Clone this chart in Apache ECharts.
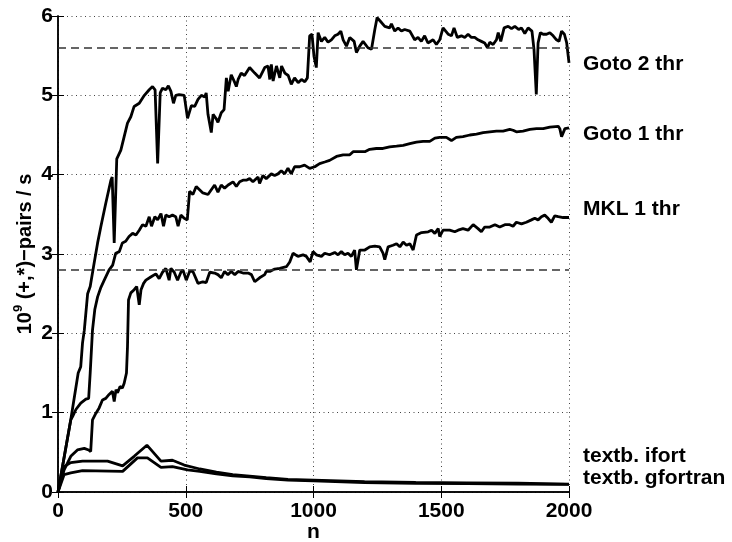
<!DOCTYPE html>
<html>
<head>
<meta charset="utf-8">
<script src="https://cdn.jsdelivr.net/npm/echarts@6/dist/echarts.min.js"></script>
<style>
  html, body { margin: 0; padding: 0; background: #fff; }
  #chart { width: 732px; height: 542px; }
</style>
</head>
<body>
<div id="chart"></div>
<script>
// values: [n, 1e9 pairs/s]
const goto2 = [
  [0, 0], [50, 0.91], [79, 1.5], [89, 1.58], [96, 1.88], [103, 2.04], [116, 2.5], [126, 2.59],
  [139, 2.84], [155, 3.14], [168, 3.35], [187, 3.64], [207, 3.93], [212, 3.97], [220, 3.14],
  [230, 4.2], [246, 4.31], [259, 4.48], [272, 4.65], [285, 4.73], [298, 4.86], [318, 4.9],
  [338, 5.0], [357, 5.07], [370, 5.11], [380, 5.07], [390, 4.14], [400, 5.03], [409, 5.09],
  [422, 5.07], [432, 5.12], [442, 5.05], [452, 4.9], [461, 5.0], [474, 5.01], [494, 5.0],
  [507, 4.71], [522, 4.87], [535, 4.86], [548, 4.95], [561, 5.0], [574, 4.98], [580, 5.03],
  [587, 4.76], [600, 4.53], [607, 4.76], [620, 4.7], [626, 4.66], [639, 4.78], [650, 4.82],
  [659, 5.22], [666, 5.05], [678, 5.26], [692, 5.16], [698, 5.11], [705, 5.2], [717, 5.28],
  [730, 5.25], [750, 5.35], [770, 5.28], [789, 5.22], [809, 5.35], [822, 5.37], [829, 5.2],
  [835, 5.39], [842, 5.18], [855, 5.37], [868, 5.22], [875, 5.37], [888, 5.28], [901, 5.25],
  [913, 5.14], [926, 5.22], [940, 5.16], [953, 5.2], [966, 5.17], [976, 5.22], [985, 5.75],
  [994, 5.77], [1002, 5.49], [1011, 5.35], [1018, 5.79], [1031, 5.68], [1044, 5.73], [1057, 5.67],
  [1070, 5.7], [1083, 5.75], [1096, 5.77], [1107, 5.81], [1116, 5.7], [1129, 5.62], [1142, 5.73],
  [1159, 5.68], [1168, 5.54], [1181, 5.62], [1194, 5.68], [1213, 5.6], [1227, 5.58], [1240, 5.83],
  [1249, 5.98], [1260, 5.94], [1279, 5.87], [1298, 5.85], [1305, 5.9], [1318, 5.81], [1331, 5.85],
  [1344, 5.81], [1357, 5.83], [1377, 5.81], [1396, 5.7], [1409, 5.73], [1422, 5.68], [1435, 5.75],
  [1448, 5.66], [1468, 5.7], [1481, 5.64], [1494, 5.7], [1507, 5.85], [1527, 5.77], [1540, 5.75],
  [1550, 5.85], [1563, 5.73], [1579, 5.75], [1592, 5.73], [1605, 5.77], [1618, 5.73], [1631, 5.73],
  [1644, 5.7], [1657, 5.68], [1670, 5.66], [1681, 5.6], [1690, 5.67], [1703, 5.64], [1716, 5.7],
  [1723, 5.79], [1733, 5.68], [1746, 5.85], [1762, 5.87], [1775, 5.84], [1788, 5.87], [1803, 5.83],
  [1814, 5.85], [1827, 5.78], [1840, 5.85], [1855, 5.81], [1863, 5.58], [1872, 5.01], [1879, 5.66],
  [1888, 5.79], [1899, 5.77], [1912, 5.77], [1925, 5.79], [1938, 5.75], [1951, 5.7], [1961, 5.68],
  [1971, 5.81], [1982, 5.77], [1991, 5.66], [2000, 5.41]
];

const goto1 = [
  [0, 0], [50, 0.91], [57, 0.95], [70, 1.04], [89, 1.12], [109, 1.17], [120, 1.18], [126, 1.5],
  [135, 2.04], [144, 2.3], [155, 2.46], [168, 2.58], [181, 2.67], [200, 2.8], [214, 2.86],
  [226, 3.01], [240, 3.03], [252, 3.14], [265, 3.16], [278, 3.22], [292, 3.26], [305, 3.24],
  [318, 3.3], [331, 3.37], [344, 3.35], [357, 3.47], [366, 3.35], [379, 3.47], [390, 3.43],
  [403, 3.51], [413, 3.35], [422, 3.49], [435, 3.47], [448, 3.49], [461, 3.47], [470, 3.35],
  [481, 3.49], [494, 3.45], [506, 3.43], [515, 3.79], [528, 3.75], [541, 3.85], [554, 3.81],
  [567, 3.77], [587, 3.75], [600, 3.81], [613, 3.87], [626, 3.78], [639, 3.87], [652, 3.83],
  [666, 3.87], [685, 3.91], [698, 3.85], [711, 3.91], [724, 3.93], [737, 3.93], [750, 3.95],
  [763, 3.91], [783, 3.97], [789, 3.89], [802, 3.99], [815, 3.95], [835, 4.01], [848, 3.99],
  [861, 4.01], [874, 4.05], [887, 4.01], [900, 4.08], [913, 4.01], [926, 4.1], [946, 4.1],
  [965, 4.12], [985, 4.08], [1005, 4.1], [1024, 4.14], [1044, 4.16], [1063, 4.18], [1090, 4.23],
  [1116, 4.25], [1142, 4.25], [1155, 4.29], [1181, 4.29], [1201, 4.29], [1220, 4.32], [1246, 4.33],
  [1272, 4.33], [1298, 4.35], [1325, 4.36], [1351, 4.37], [1377, 4.39], [1403, 4.41], [1429, 4.42],
  [1455, 4.42], [1475, 4.46], [1494, 4.47], [1520, 4.47], [1540, 4.43], [1559, 4.47], [1585, 4.48],
  [1612, 4.5], [1638, 4.51], [1664, 4.53], [1690, 4.54], [1716, 4.55], [1742, 4.55], [1768, 4.57],
  [1781, 4.56], [1794, 4.54], [1820, 4.55], [1847, 4.57], [1873, 4.58], [1899, 4.58], [1925, 4.6],
  [1958, 4.61], [1964, 4.58], [1971, 4.48], [1984, 4.58], [2000, 4.59]
];

const mkl1 = [
  [0, 0], [24, 0.28], [50, 0.45], [76, 0.53], [103, 0.55], [120, 0.53], [128, 0.51], [135, 0.91],
  [148, 0.99], [161, 1.06], [174, 1.16], [187, 1.18], [200, 1.23], [213, 1.27], [220, 1.14],
  [227, 1.29], [233, 1.25], [243, 1.33], [252, 1.31], [259, 1.37], [268, 1.5], [272, 1.83],
  [276, 2.42], [285, 2.51], [298, 2.55], [308, 2.59], [318, 2.36], [325, 2.55], [335, 2.63],
  [344, 2.67], [363, 2.71], [383, 2.75], [396, 2.69], [409, 2.77], [422, 2.82], [435, 2.67],
  [442, 2.82], [455, 2.77], [468, 2.67], [481, 2.77], [489, 2.8], [502, 2.67], [515, 2.78],
  [528, 2.78], [548, 2.63], [567, 2.65], [580, 2.64], [594, 2.77], [613, 2.76], [626, 2.74],
  [639, 2.7], [652, 2.78], [665, 2.74], [678, 2.78], [692, 2.74], [705, 2.78], [724, 2.76],
  [744, 2.76], [757, 2.74], [770, 2.65], [789, 2.7], [809, 2.74], [815, 2.78], [829, 2.78],
  [848, 2.81], [868, 2.82], [894, 2.84], [907, 2.9], [920, 3.01], [939, 2.97], [959, 2.99],
  [972, 2.97], [987, 2.9], [998, 3.03], [1011, 2.99], [1031, 2.97], [1044, 3.01], [1063, 2.99],
  [1083, 3.02], [1096, 2.99], [1109, 3.03], [1122, 2.99], [1135, 3.01], [1148, 2.97], [1161, 3.05],
  [1168, 2.8], [1181, 3.05], [1201, 3.05], [1220, 3.09], [1240, 3.1], [1259, 3.09], [1272, 3.01],
  [1279, 2.93], [1292, 3.09], [1311, 3.11], [1325, 3.13], [1338, 3.09], [1351, 3.15], [1364, 3.11],
  [1377, 3.13], [1390, 3.05], [1403, 3.24], [1423, 3.27], [1449, 3.28], [1462, 3.3], [1475, 3.26],
  [1488, 3.32], [1494, 3.22], [1507, 3.3], [1533, 3.3], [1553, 3.28], [1566, 3.3], [1585, 3.32],
  [1605, 3.3], [1625, 3.37], [1644, 3.32], [1657, 3.28], [1670, 3.34], [1690, 3.34], [1710, 3.37],
  [1729, 3.34], [1749, 3.37], [1768, 3.37], [1781, 3.35], [1794, 3.4], [1814, 3.38], [1833, 3.4],
  [1853, 3.43], [1866, 3.45], [1879, 3.43], [1892, 3.47], [1905, 3.49], [1918, 3.45], [1931, 3.4],
  [1944, 3.48], [1958, 3.47], [1977, 3.46], [2000, 3.46]
];

const textbIfort = [
  [0, 0], [24, 0.32], [50, 0.37], [96, 0.39], [194, 0.39], [253, 0.33], [298, 0.45], [348, 0.59],
  [403, 0.39], [448, 0.4], [494, 0.34], [555, 0.29], [620, 0.25], [684, 0.22], [750, 0.2],
  [815, 0.18], [900, 0.16], [1000, 0.15], [1200, 0.13], [1400, 0.12], [1600, 0.115], [1800, 0.11],
  [2000, 0.1]
];

const textbGfortran = [
  [0, 0], [24, 0.22], [50, 0.24], [96, 0.27], [253, 0.26], [311, 0.43], [350, 0.43], [403, 0.31],
  [448, 0.32], [507, 0.28], [555, 0.26], [620, 0.23], [684, 0.205], [750, 0.19], [815, 0.17],
  [900, 0.15], [1000, 0.14], [1200, 0.12], [1400, 0.11], [1600, 0.105], [1800, 0.1], [2000, 0.095]
];

// dashed reference levels
const refLevels = [5.6, 2.8];

// labels written to the right of the plot
const seriesLabels = ['Goto 2 thr', 'Goto 1 thr', 'MKL 1 thr', 'textb. ifort', 'textb. gfortran'];
const labelY = [64, 134, 209, 456, 478];

const chart = echarts.init(document.getElementById('chart'));
const font = "'Liberation Sans', Arial, Helvetica, sans-serif";

const lineSeries = (name, data) => ({
  name: name,
  type: 'line',
  data: data,
  symbol: 'none',
  silent: true,
  lineStyle: { color: '#000', width: 2.8 },
  z: 3
});

const option = {
  animation: false,
  backgroundColor: '#fff',
  grid: { left: 58, right: 163, top: 16, bottom: 50, outerBoundsMode: 'none', containLabel: false },
  xAxis: [
    {
      type: 'value', min: 0, max: 2000, interval: 500,
      axisLine: { lineStyle: { color: '#000', width: 1.5 } },
      axisTick: { inside: true, length: 6, lineStyle: { color: '#000', width: 1 } },
      axisLabel: {
        color: '#000', fontSize: 21, fontWeight: 'bold', fontFamily: font, margin: 9,
        formatter: v => String(v)
      },
      splitLine: { show: true, lineStyle: { color: '#444', width: 1, type: [1, 3.5] } },
      name: 'n', nameLocation: 'middle', nameGap: 30, nameMoveOverlap: false,
      nameTextStyle: { color: '#000', fontSize: 21, fontWeight: 'bold', fontFamily: font }
    },
    {
      type: 'value', min: 0, max: 2000, interval: 500, position: 'top',
      axisLine: { show: true, lineStyle: { color: '#000', width: 1.5 } },
      axisTick: { show: true, inside: true, length: 6, lineStyle: { color: '#000' } },
      axisLabel: { show: false }, splitLine: { show: false }
    }
  ],
  yAxis: [
    {
      type: 'value', min: 0, max: 6, interval: 1,
      axisLine: { show: true, lineStyle: { color: '#000', width: 1.5 } },
      axisTick: { show: true, inside: true, length: 6, lineStyle: { color: '#000' } },
      axisLabel: {
        color: '#000', fontSize: 21, fontWeight: 'bold', fontFamily: font, margin: 5,
        formatter: v => String(v)
      },
      splitLine: { show: true, lineStyle: { color: '#444', width: 1, type: [1, 3.5] } },
      name: '10{sup|9} (+,*)\u2212pairs / s', nameLocation: 'middle', nameGap: 20, nameMoveOverlap: false,
      nameTextStyle: {
        color: '#000', fontSize: 20, fontWeight: 'bold', fontFamily: font, lineHeight: 26,
        rich: { sup: { fontSize: 13, fontWeight: 'bold', fontFamily: font, verticalAlign: 'top', lineHeight: 26, color: '#000' } }
      }
    },
    {
      type: 'value', min: 0, max: 6, interval: 1, position: 'right',
      axisLine: { show: true, lineStyle: { color: '#000', width: 1.5 } },
      axisTick: { show: true, inside: true, length: 6, lineStyle: { color: '#000' } },
      axisLabel: { show: false }, splitLine: { show: false }
    }
  ],
  series: [
    Object.assign(lineSeries('Goto 2 thr', goto2), {
      markLine: {
        silent: true, symbol: 'none', label: { show: false },
        lineStyle: { color: '#333', width: 1.6, type: [8, 5] },
        data: refLevels.map(v => ({ yAxis: v }))
      }
    }),
    lineSeries('Goto 1 thr', goto1),
    lineSeries('MKL 1 thr', mkl1),
    lineSeries('textb. ifort', textbIfort),
    lineSeries('textb. gfortran', textbGfortran)
  ],
  graphic: seriesLabels.map((t, i) => ({
    type: 'text',
    x: 583,
    y: labelY[i],
    style: {
      text: t, fill: '#000', fontSize: 21, fontWeight: 'bold', fontFamily: font,
      verticalAlign: 'middle', align: 'left'
    }
  }))
};

chart.setOption(option);
</script>
</body>
</html>
